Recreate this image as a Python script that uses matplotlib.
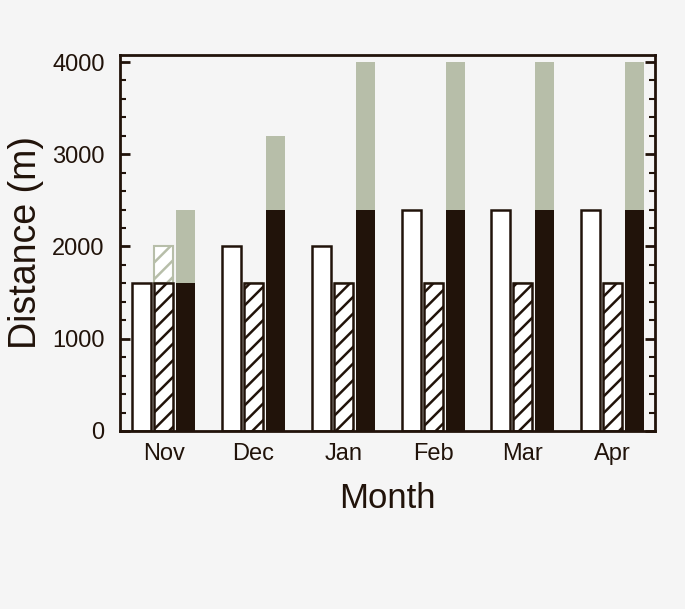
import numpy as np
import matplotlib
matplotlib.use("Agg")
import matplotlib.pyplot as plt
from matplotlib.ticker import MultipleLocator

plt.rcParams['font.family'] = ['Liberation Sans', 'DejaVu Sans']

months = ["Nov", "Dec", "Jan", "Feb", "Mar", "Apr"]
white_vals = [1600, 2000, 2000, 2400, 2400, 2400]
hatch_vals = [1600, 1600, 1600, 1600, 1600, 1600]
hatch_extra = [2000, 1600, 1600, 1600, 1600, 1600]   # top of light hatched part
black_vals = [1600, 2400, 2400, 2400, 2400, 2400]
green_top = [2400, 3200, 4000, 4000, 4000, 4000]

dark = "#21130a"
green = "#b7bea9"
bg = "#f5f5f5"
plt.rcParams['hatch.linewidth'] = 1.8

fig = plt.figure(figsize=(6.85, 6.09), dpi=100, facecolor=bg)
ax = fig.add_axes([0.175, 0.2923, 0.781, 0.6174], facecolor=bg)

x = np.arange(len(months))
w = 0.21
off = 0.245

# white bars
ax.bar(x - off, white_vals, w, color="white", edgecolor=dark, linewidth=1.8)

# light hatched extension (Nov)
ext = np.array(hatch_extra) - np.array(hatch_vals)
ax.bar(x, ext, w, bottom=hatch_vals, color="white", edgecolor=green,
       hatch="//", linewidth=1.5)
# hatched bars
ax.bar(x, hatch_vals, w, color="white", edgecolor=dark, hatch="//", linewidth=1.8)

# black bars with green extension
ax.bar(x + off, np.array(green_top) - np.array(black_vals), w, bottom=black_vals,
       color=green, linewidth=0)
ax.bar(x + off, black_vals, w, color=dark, linewidth=0)

ax.set_xlim(-0.49, 5.47)
ax.set_ylim(0, 4076)
ax.set_xticks(x)
ax.set_xticklabels(months)
ax.yaxis.set_major_locator(MultipleLocator(1000))
ax.yaxis.set_minor_locator(MultipleLocator(200))
ax.tick_params(axis="x", length=0, labelsize=17, pad=9, colors=dark)
ax.tick_params(axis="y", which="major", direction="in", length=7, width=2,
               labelsize=17, right=True, colors=dark, pad=11)
ax.tick_params(axis="y", which="minor", direction="in", length=4, width=1.5,
               right=True, colors=dark)

for s in ax.spines.values():
    s.set_linewidth(2)
    s.set_color(dark)

ax.set_xlabel("Month", fontsize=25, color=dark, labelpad=12)
ax.set_ylabel("Distance (m)", fontsize=27, color=dark, labelpad=6)

fig.savefig("out.png", dpi=100, facecolor=bg)
